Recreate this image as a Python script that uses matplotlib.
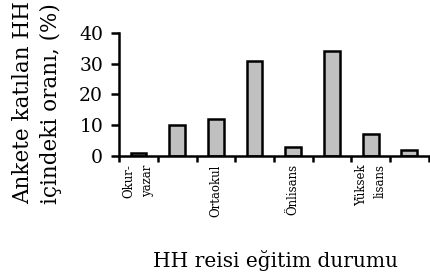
import matplotlib.pyplot as plt
import numpy as np

# Veriler
categories = ["Okur-\nyazar", "", "Ortaokul", "", "Önlisans", "", "Yüksek\nlisans", ""]
values = [1, 10, 12, 31, 3, 34, 7, 2]
y_ticks = [0, 10, 20, 30, 40]

plt.rcParams["font.family"] = ["DejaVu Serif"]

fig = plt.figure(figsize=(4.3, 2.79), dpi=100)
ax = fig.add_axes([0.277, 0.441, 0.72, 0.441])

x = np.arange(len(values))
ax.bar(x, values, width=0.41, color="#c0c0c0", edgecolor="black", linewidth=1.8)

ax.set_xlim(-0.5, len(values) - 0.5)
ax.set_ylim(0, 40)
ax.set_yticks(y_ticks)
ax.tick_params(axis="y", labelsize=13.5, width=1.8, length=5.5, pad=6)

ax.set_xticks(x)
ax.set_xticklabels(categories, rotation=90, fontsize=8.5, va="top",
                   multialignment="right", linespacing=1.6)
ax.tick_params(axis="x", which="major", length=0, pad=6)
ax.set_xticks(np.arange(-0.5, len(values), 1), minor=True)
ax.tick_params(axis="x", which="minor", length=4, width=1.8)

for side in ["top", "right"]:
    ax.spines[side].set_visible(False)
for side in ["left", "bottom"]:
    ax.spines[side].set_linewidth(1.8)

# Підписи осей
fig.text(0.086, 0.634, "Ankete katılan HH\niçindeki oranı, (%)", rotation=90,
         ha="center", va="center", multialignment="left", fontsize=15.5,
         linespacing=1.35)
fig.text(0.64, 0.043, "HH reisi eğitim durumu", ha="center", va="baseline",
         fontsize=14.5)

fig.savefig("out.png", dpi=100)
